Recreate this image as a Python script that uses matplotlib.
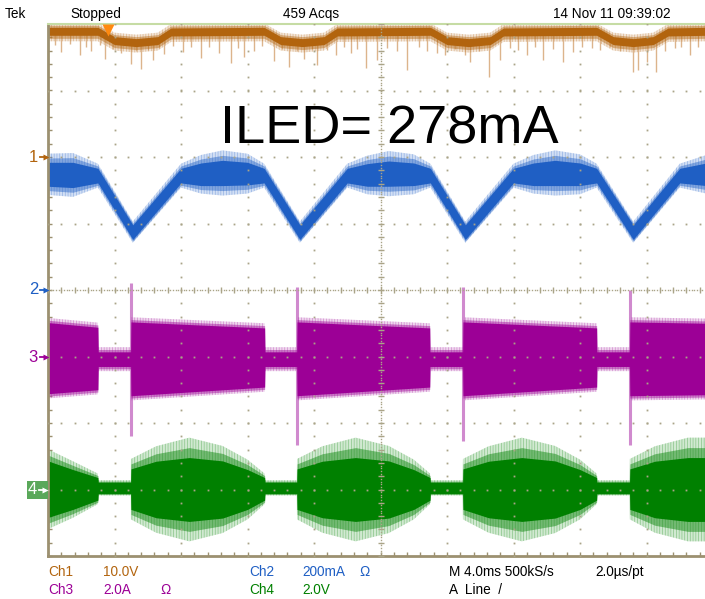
"""Tek scope capture: LED current ripple, ILED = 278mA"""
import numpy as np
import matplotlib.pyplot as plt
from matplotlib import font_manager

# channel settings: offset (div) and units per division
ch1_off, ch1_scale = 2.0, 10.0     # V/div
ch2_off, ch2_scale = 0.0, 200.0    # mA/div
ch3_off, ch3_scale = -1.0, 2.0     # A/div
ch4_off, ch4_scale = -3.0, 2.0     # V/div
ms_per_div = 4.0

# Ch1 (brown) - centre of trace, V, and downward spikes
brown_t = [0, 3.0, 4.0, 5.3, 6.6, 7.4, 13.0, 14.0, 15.3, 16.6, 17.4, 23.0, 24.0,
           25.3, 26.6, 27.4, 33.0, 34.0, 35.2, 36.4, 37.3, 39.6]
brown_V = [18.9, 18.9, 17.5, 17.2, 17.5, 18.8, 18.9, 17.5, 17.2, 17.5, 18.8, 18.9,
           17.5, 17.2, 17.5, 18.8, 18.9, 17.5, 17.2, 17.5, 18.8, 18.9]
brown_spike_t = [0.4, 0.8, 1.3, 1.9, 2.3, 2.6, 3.1, 3.4, 3.9, 4.4, 5.0, 5.3, 5.6, 6.0,
                 6.3, 6.7, 7.0, 7.5, 8.1, 8.6, 9.2, 9.7, 10.3, 11.0, 11.4, 11.8, 12.4,
                 12.9, 13.6, 14.1, 14.5, 15.0, 15.4, 15.9, 16.2, 16.8, 17.3, 17.8,
                 18.2, 18.6, 19.1, 19.8, 20.4, 21.0, 21.6, 22.3, 22.8, 23.4, 23.9,
                 24.5, 25.1, 25.4, 25.9, 26.5, 27.2, 27.8, 28.3, 28.8, 29.3, 29.8,
                 30.4, 31.0, 31.6, 32.1, 32.7, 33.2, 33.8, 34.4, 35.2, 35.5, 36.0,
                 36.6, 37.1, 37.7, 38.1, 38.6, 39.1]
brown_spike_V = [16.8, 15.8, 17.0, 15.3, 16.6, 16.0, 16.9, 14.8, 16.2, 15.6, 14.0, 15.9,
                 13.2, 16.1, 14.6, 16.4, 15.5, 16.7, 15.8, 16.5, 14.9, 16.6, 15.6, 14.2,
                 16.4, 15.0, 16.0, 16.7, 14.4, 16.2, 13.5, 16.0, 14.8, 16.3, 13.8,
                 16.1, 15.4, 16.6, 15.6, 16.2, 13.4, 14.6, 16.4, 15.9, 13.1, 16.5,
                 16.0, 15.7, 15.3, 16.3, 15.3, 14.3, 16.0, 12.0, 14.6, 16.4, 16.1,
                 15.3, 16.5, 14.6, 16.3, 14.3, 15.8, 16.6, 16.4, 16.1, 16.5, 15.9,
                 12.8, 13.1, 14.3, 12.8, 16.0, 16.4, 16.6, 15.3, 16.5]

# Ch2 (blue) - LED current centre and noise half widths, mA
blue_t = [0, 1.5, 3.0, 5.1, 8.0, 9.2, 10.5, 12.0, 13.0, 15.15, 18.0, 19.2, 20.5, 22.0,
          23.0, 25.1, 28.0, 29.2, 30.5, 32.0, 33.0, 35.2, 38.0, 39.6]
blue_mA = [348, 346, 344, 174, 344, 348, 352, 350, 344, 174, 344, 346, 350, 348,
           344, 174, 344, 348, 352, 348, 344, 174, 344, 348]
blue_core = [36, 38, 22, 22, 22, 34, 38, 34, 22, 22, 22, 34, 38, 34,
             22, 22, 22, 34, 38, 34, 22, 22, 22, 34]
blue_fringe = [62, 66, 36, 32, 36, 58, 68, 60, 36, 32, 36, 58, 68, 60,
               36, 32, 36, 58, 68, 60, 36, 32, 36, 58]

# Ch3 (magenta) - switch current envelope, A
mag_t = [0, 3.0, 3.02, 4.97, 4.99, 13.03, 13.05, 14.96, 14.98, 22.96, 22.98, 24.94,
         24.96, 33.0, 33.02, 34.98, 35.0, 39.6]
mag_top = [1.02, 0.88, 0.14, 0.14, 1.04, 0.86, 0.14, 0.14, 1.04, 0.86, 0.14, 0.14,
           1.04, 0.86, 0.14, 0.14, 1.04, 1.0]
mag_bot = [-1.12, -1.0, -0.3, -0.3, -1.18, -0.92, -0.3, -0.3, -1.18, -0.92, -0.3, -0.3,
           -1.18, -0.92, -0.3, -0.3, -1.18, -1.15]
mag_spike_t = [4.99, 14.98, 24.96, 35.0]
mag_spike_top = [2.2, 2.1, 2.1, 2.0]
mag_spike_bot = [-2.4, -2.65, -2.55, -2.65]

# Ch4 (green) - envelope, V
green_t = [0, 1.5, 3.0, 3.02, 4.97, 4.99, 6.5, 8.5, 10.5, 12.0, 13.03, 13.05, 14.96,
           14.98, 16.5, 18.5, 20.5, 22.0, 22.98, 23.0, 24.94, 24.96, 26.5, 28.5,
           30.5, 32.0, 33.0, 33.02, 34.98, 35.0, 36.5, 38.5, 39.6]
green_top = [0.86, 0.6, 0.36, 0.22, 0.22, 0.62, 0.85, 0.96, 0.86, 0.6, 0.36, 0.22, 0.22,
             0.62, 0.85, 0.96, 0.86, 0.6, 0.36, 0.22, 0.22, 0.62, 0.85, 0.96,
             0.86, 0.6, 0.36, 0.22, 0.22, 0.62, 0.85, 0.96, 0.96]
green_bot = [-0.84, -0.6, -0.32, -0.12, -0.12, -0.6, -0.85, -0.96, -0.86, -0.6, -0.32, -0.12, -0.12,
             -0.6, -0.85, -0.96, -0.86, -0.6, -0.32, -0.12, -0.12, -0.6, -0.85, -0.96,
             -0.86, -0.6, -0.32, -0.12, -0.12, -0.6, -0.85, -0.96, -0.96]
green_extra = [0.35, 0.25, 0.12, 0.06, 0.06, 0.3, 0.45, 0.6, 0.45, 0.3, 0.12, 0.06, 0.06,
               0.3, 0.45, 0.6, 0.45, 0.3, 0.12, 0.06, 0.06, 0.3, 0.45, 0.6,
               0.45, 0.3, 0.12, 0.06, 0.06, 0.3, 0.45, 0.6, 0.6]

# ---- colours ----
c_brown, c_brown_l = '#b2640e', '#dcb48c'
c_blue, c_blue_l = '#1f5fc4', '#7fa4e0'
c_mag, c_mag_l = '#9c0096', '#d08ace'
c_green, c_green_l = '#008000', '#7cc07c'
c_grid = '#aaa488'
c_frame = '#9c9070'

names = {f.name for f in font_manager.fontManager.ttflist}
if 'Liberation Sans Narrow' in names:
    small_font, small_size = 'Liberation Sans Narrow', 11.5
else:
    small_font, small_size = 'Liberation Sans', 9.8
plt.rcParams['hatch.linewidth'] = 0.5

W, H = 705, 599
fig = plt.figure(figsize=(W / 100, H / 100), dpi=100)
fig.patch.set_facecolor('white')
left, top, div = 48, 24, 66.5
ax = fig.add_axes([left / W, (H - top - 8 * div) / H, (W - left) / W, 8 * div / H])
xmax = (W - left) / div * ms_per_div
ax.set_xlim(0, xmax)
ax.set_ylim(-4, 4)


def to_div(vals, off, scale):
    return off + np.asarray(vals, dtype=float) / scale


def band(t, lo, hi, lo2, hi2, col, light, z=2):
    # outer noise fringe: soft tint with fine vertical texture
    ax.fill_between(t, lo2, hi2, facecolor=light, edgecolor=col, hatch='||||||',
                    linewidth=0, alpha=0.35, zorder=z)
    mid_lo = (np.asarray(lo) + np.asarray(lo2)) / 2
    mid_hi = (np.asarray(hi) + np.asarray(hi2)) / 2
    ax.fill_between(t, mid_lo, mid_hi, color=col, linewidth=0, alpha=0.45, zorder=z)
    ax.fill_between(t, lo, hi, color=col, linewidth=0, zorder=z + 0.1)


# Ch1
bc = to_div(brown_V, ch1_off, ch1_scale)
ax.vlines(brown_spike_t, to_div(brown_spike_V, ch1_off, ch1_scale),
          np.interp(brown_spike_t, brown_t, bc), color=c_brown_l, lw=1.0, zorder=2)
band(brown_t, bc - 0.06, bc + 0.06, bc - 0.15, bc + 0.12, c_brown, c_brown_l)

# Ch2
cc = to_div(blue_mA, ch2_off, ch2_scale)
core = np.asarray(blue_core) / ch2_scale
fr = np.asarray(blue_fringe) / ch2_scale
band(blue_t, cc - core, cc + core, cc - fr, cc + fr, c_blue, c_blue_l)

# Ch3
mt = to_div(mag_top, ch3_off, ch3_scale)
mb = to_div(mag_bot, ch3_off, ch3_scale)
ax.vlines(mag_spike_t, to_div(mag_spike_bot, ch3_off, ch3_scale),
          to_div(mag_spike_top, ch3_off, ch3_scale), color=c_mag_l, lw=2.2, zorder=1.9)
band(mag_t, mb, mt, mb - 0.07, mt + 0.07, c_mag, c_mag_l)

# Ch4
gt = to_div(green_top, ch4_off, ch4_scale)
gb = to_div(green_bot, ch4_off, ch4_scale)
ge = np.asarray(green_extra) / ch4_scale
band(green_t, gb, gt, gb - ge, gt + ge, c_green, c_green_l)

# ---- graticule ----
sub_y = np.arange(-4, 4.001, 0.2)
sub_x = np.arange(0, xmax, 0.8)
for k in range(1, 10):
    if k == 5:
        continue
    ax.plot(np.full_like(sub_y, 4 * k), sub_y, ls='none', marker='s', ms=1.3,
            mec='none', mfc=c_grid, zorder=5)
for k in range(-3, 4):
    if k == 0:
        continue
    ax.plot(sub_x, np.full_like(sub_x, k), ls='none', marker='s', ms=1.3,
            mec='none', mfc=c_grid, zorder=5)
fine_y = np.arange(-4, 4.001, 0.04)
fine_x = np.arange(0, xmax, 0.16)
ax.plot(np.full_like(fine_y, 20), fine_y, ls='none', marker='s', ms=1.0, mec='none',
        mfc=c_grid, zorder=5)
ax.plot(fine_x, np.zeros_like(fine_x), ls='none', marker='s', ms=1.0, mec='none',
        mfc=c_grid, zorder=5)
ax.plot(np.full_like(sub_y, 20), sub_y, ls='none', marker='_', ms=5, mew=1.0,
        color=c_grid, zorder=5)
ax.plot(sub_x, np.zeros_like(sub_x), ls='none', marker='|', ms=5, mew=1.0,
        color=c_grid, zorder=5)

for s in ['left', 'bottom']:
    ax.spines[s].set_color(c_frame)
    ax.spines[s].set_linewidth(2)
ax.spines['top'].set_color('#c6dca4')
ax.spines['top'].set_linewidth(1.5)
ax.spines['right'].set_visible(False)
ax.set_xticks(sub_x)
ax.set_yticks(sub_y)
ax.tick_params(direction='in', length=3, width=1, color=c_frame, labelleft=False,
               labelbottom=False)

# ---- overlay in pixel coords ----
ov = fig.add_axes([0, 0, 1, 1], zorder=10)
ov.set_xlim(0, W)
ov.set_ylim(H, 0)
ov.axis('off')
ov.patch.set_alpha(0)


def small(x, y, s, col='black'):
    ov.text(x, y, s, color=col, fontsize=small_size, family=[small_font, 'DejaVu Sans'],
            ha='left', va='center')


small(5, 14, 'Tek')
small(70, 14, 'Stopped')
small(283, 14, '459 Acqs')
small(553, 14, '14 Nov 11 09:39:02')
ov.plot([108], [30], marker='v', ms=8, color='#ff8a10', mec='none')

small(48, 572, 'Ch1', c_brown)
small(103, 572, '10.0V', c_brown)
small(249, 572, 'Ch2', c_blue)
small(302, 572, '200mA', c_blue)
small(359, 572, 'Ω', c_blue)
small(449, 572, 'M 4.0ms 500kS/s')
small(595, 572, '2.0µs/pt')
small(48, 590, 'Ch3', c_mag)
small(103, 590, '2.0A', c_mag)
small(160, 590, 'Ω', c_mag)
small(249, 590, 'Ch4', c_green)
small(302, 590, '2.0V', c_green)
small(449, 590, 'A  Line  /')

# channel ground markers
for lab, y, col in [('1', 157, c_brown), ('2', 290, c_blue), ('3', 357, c_mag)]:
    ov.text(38, y, lab, color=col, fontsize=12, family='Liberation Sans',
            ha='right', va='center')
    ov.plot([40, 46], [y, y], color=col, lw=1.3)
    ov.plot([46], [y], marker='>', ms=4, color=col, mec='none')
ov.add_patch(plt.Rectangle((27, 481), 21, 18, color='#5aa85a', lw=0))
ov.text(37, 490, '4', color='white', fontsize=12, family='Liberation Sans',
        ha='right', va='center')
ov.plot([39, 45], [490, 490], color='white', lw=1.3)
ov.plot([45], [490], marker='>', ms=4, color='white', mec='none')

ov.text(220, 143, 'ILED= 278mA', fontsize=39, family='Liberation Sans',
        color='black', ha='left', va='baseline')

fig.savefig('out.png', dpi=100)
